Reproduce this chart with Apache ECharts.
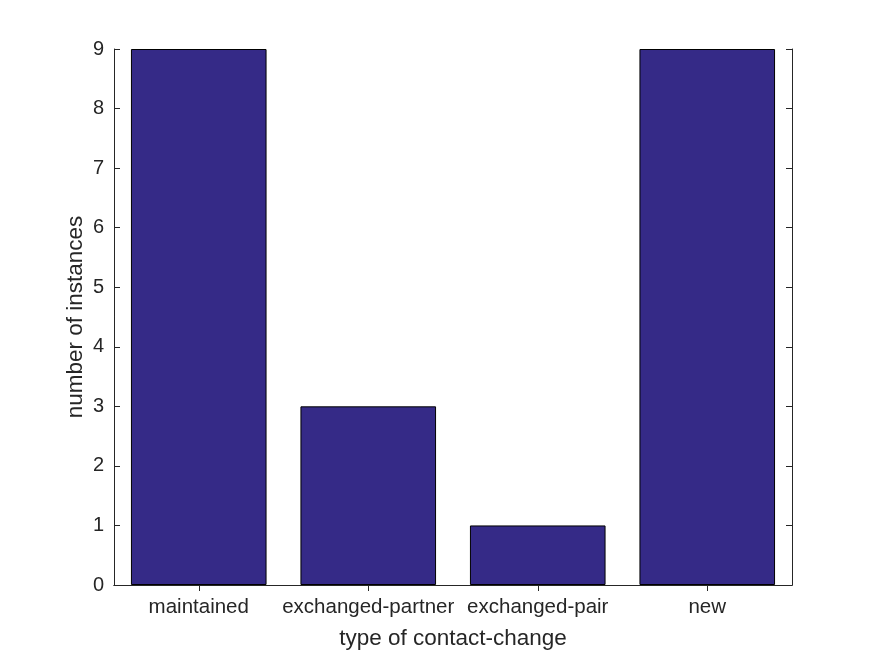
<!DOCTYPE html>
<html><head><meta charset="utf-8">
<script src="https://cdn.jsdelivr.net/npm/echarts@6/dist/echarts.min.js"></script>
<style>html,body{margin:0;padding:0;background:#fff}#c{width:875px;height:656px}</style>
</head><body><div id="c"></div>
<script>
var categories = ['maintained', 'exchanged-partner', 'exchanged-pair', 'new'];
var counts = [9, 3, 1, 9];
var yTicks = [0, 1, 2, 3, 4, 5, 6, 7, 8, 9];

var chart = echarts.init(document.getElementById('c'));
var font = 'Liberation Sans, Arial, sans-serif';
var axColor = '#262626';
chart.setOption({
  animation: false,
  backgroundColor: '#fff',
  grid: {left: 114, right: 83, top: 49, bottom: 71, containLabel: false},
  xAxis: [{
    type: 'category', data: categories, position: 'bottom',
    name: 'type of contact-change', nameLocation: 'middle', nameGap: 42,
    nameMoveOverlap: false,
    nameTextStyle: {color: axColor, fontSize: 22.5, fontFamily: font},
    axisLine: {lineStyle: {color: axColor, width: 1}},
    axisTick: {show: true, inside: true, alignWithLabel: true, length: 6, lineStyle: {color: axColor}},
    axisLabel: {color: axColor, fontSize: 20.5, fontFamily: font, margin: 12, interval: 0},
    splitLine: {show: false}
  }, {
    type: 'category', data: categories, position: 'top',
    axisLine: {lineStyle: {color: axColor, width: 1}},
    axisTick: {show: true, inside: true, alignWithLabel: true, length: 6, interval: 0, lineStyle: {color: axColor}},
    axisLabel: {show: false}
  }],
  yAxis: [{
    type: 'value', min: yTicks[0], max: yTicks[yTicks.length - 1], interval: 1, position: 'left',
    name: 'number of instances', nameLocation: 'middle', nameGap: 27,
    nameMoveOverlap: false,
    nameTextStyle: {color: axColor, fontSize: 22.5, fontFamily: font},
    axisLine: {show: true, lineStyle: {color: axColor, width: 1}},
    axisTick: {show: true, inside: true, length: 6, lineStyle: {color: axColor}},
    axisLabel: {color: axColor, fontSize: 20, fontFamily: font, margin: 10},
    splitLine: {show: false}
  }, {
    type: 'value', min: yTicks[0], max: yTicks[yTicks.length - 1], interval: 1, position: 'right',
    axisLine: {show: true, lineStyle: {color: axColor, width: 1}},
    axisTick: {show: true, inside: true, length: 6, lineStyle: {color: axColor}},
    axisLabel: {show: false},
    splitLine: {show: false}
  }],
  series: [{
    type: 'bar', data: counts, barWidth: '80%',
    itemStyle: {color: '#352a87', borderColor: '#000', borderWidth: 1}
  }]
});
</script></body></html>
